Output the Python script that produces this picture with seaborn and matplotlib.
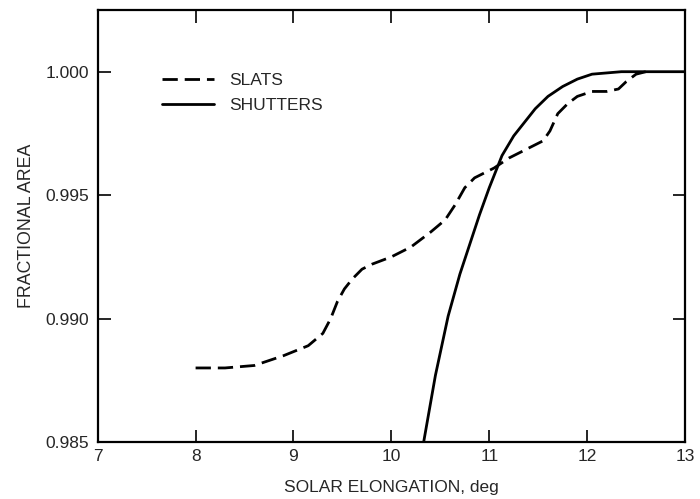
import seaborn as sns
import matplotlib.pyplot as plt
import pandas as pd

# values
slats_x = [8.0, 8.3, 8.6, 8.9, 9.15, 9.3, 9.38, 9.45, 9.52, 9.6, 9.7, 9.8, 10.0,
           10.2, 10.4, 10.55, 10.65, 10.75, 10.85, 10.95, 11.05, 11.2, 11.4, 11.55,
           11.62, 11.7, 11.8, 11.9, 12.05, 12.2, 12.32, 12.4, 12.5, 12.6]
slats_y = [0.9880, 0.9880, 0.9881, 0.9885, 0.9889, 0.9894, 0.9900, 0.9907, 0.9912,
           0.9916, 0.9920, 0.9922, 0.9925, 0.9929, 0.9935, 0.9940, 0.9946, 0.9953,
           0.9957, 0.9959, 0.9961, 0.9965, 0.9969, 0.9972, 0.9976, 0.9983, 0.9987,
           0.9990, 0.9992, 0.9992, 0.9993, 0.9996, 0.9999, 1.0000]

shutters_x = [10.33, 10.45, 10.58, 10.7, 10.8, 10.9, 11.0, 11.13, 11.25, 11.35,
              11.47, 11.6, 11.75, 11.9, 12.05, 12.2, 12.35, 12.5, 12.7, 13.0]
shutters_y = [0.9850, 0.9877, 0.9901, 0.9918, 0.9930, 0.9942, 0.9953, 0.9966,
              0.9974, 0.9979, 0.9985, 0.9990, 0.9994, 0.9997, 0.9999, 0.99995,
              1.0000, 1.0000, 1.0000, 1.0000]

x_ticks = [7, 8, 9, 10, 11, 12, 13]
y_ticks = [0.985, 0.990, 0.995, 1.000]


def plot_fractional_area():
    sns.set_style("ticks")
    plt.rcParams['font.family'] = ['Liberation Sans', 'DejaVu Sans']

    df_slats = pd.DataFrame({"x": slats_x, "y": slats_y})
    df_shut = pd.DataFrame({"x": shutters_x, "y": shutters_y})

    fig = plt.figure(figsize=(7, 4.99), dpi=100)
    ax = fig.add_axes([0.1396, 0.1142, 0.8390, 0.8658])

    sns.lineplot(data=df_slats, x="x", y="y", ax=ax, color="black", lw=2,
                 sort=False, label="SLATS", dashes=False)
    sns.lineplot(data=df_shut, x="x", y="y", ax=ax, color="black", lw=2,
                 sort=False, label="SHUTTERS")
    ax.lines[0].set_dashes((5.5, 2.5))

    ax.set_xlim(7, 13)
    ax.set_ylim(0.985, 1.0025)
    ax.set_xticks(x_ticks)
    ax.set_yticks(y_ticks)
    ax.set_yticklabels([f"{v:.3f}" for v in y_ticks])

    ax.tick_params(direction="in", length=9, width=1.2, labelsize=12.5, color="black",
                   top=True, right=True, labeltop=False, labelright=False)
    ax.tick_params(axis="x", pad=5)
    ax.tick_params(axis="y", pad=6)
    for sp in ax.spines.values():
        sp.set_linewidth(1.6)
        sp.set_color("black")

    ax.set_xlabel("SOLAR ELONGATION, deg", fontsize=12.5)
    ax.xaxis.set_label_coords(0.5, -0.088)
    ax.set_ylabel("FRACTIONAL AREA", fontsize=12.8)
    ax.yaxis.set_label_coords(-0.106, 0.5)

    ax.legend(loc="upper left", bbox_to_anchor=(0.082, 0.89), frameon=False,
              fontsize=12.5, handlelength=3.05, handletextpad=0.85, labelspacing=0.55)

    plt.savefig("out.png", dpi=100)


if __name__ == "__main__":
    plot_fractional_area()
